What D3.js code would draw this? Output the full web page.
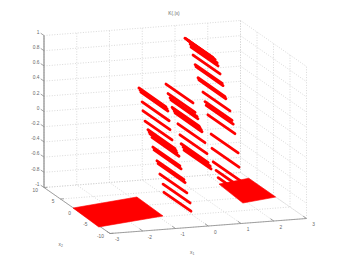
<!DOCTYPE html>
<html>
<head>
<meta charset="utf-8">
<script src="https://cdn.jsdelivr.net/npm/d3@7"></script>
<style>
  body { margin: 0; background: #fff; }
  text { font-family: "Liberation Sans", sans-serif; font-size: 4.8px; fill: #666; }
</style>
</head>
<body>
<svg id="chart"></svg>
<script>
// axis ticks
const xTicks = [-3, -2, -1, 0, 1, 2, 3];
const yTicks = [-10, -5, 0, 5, 10];
const zTicks = [-1, -0.8, -0.6, -0.4, -0.2, 0, 0.2, 0.4, 0.6, 0.8, 1];
const zTickLabels = ["-1", "-0.8", "-0.6", "-0.4", "-0.2", "0", "0.2", "0.4", "0.6", "0.8", "1"];

// red line segments, one entry per segment: x1, x2 at the start, and level
const lineX = [-0.75, -0.71, -0.68, -0.64, -0.61, -0.54, -0.44, -0.40, -0.37, -0.30, -0.27, -0.23, -0.13, -0.09, -0.03, 0.08, 0.11,
  0.18, 0.25, 0.32, 0.35, 0.39, 0.42, 0.46, 0.49, 0.59, 0.66, 0.70, 0.77, 0.80,
  0.83, 0.87, 0.94, 1.01, 1.04, 1.11, 1.18, 1.21, 1.28, 1.31, 1.45, 1.52, 1.56, 1.62, 1.73, 1.76, 1.80, 1.90, 1.97];
const lineY = [3.58, 3.62, 3.65, 3.69, 3.73, 3.81, 3.92, 3.96, 4.00, 4.07, 4.11, 4.14, 4.26, 4.30, 4.37, 4.49, 4.52,
  4.60, 4.67, 4.75, 4.78, 4.83, 4.86, 4.90, 4.94, 5.05, 5.13, 5.17, 5.24, 5.28,
  5.32, 5.35, 5.43, 5.51, 5.54, 5.62, 5.69, 5.73, 5.81, 5.85, 6.00, 6.07, 6.11, 6.19, 6.30, 6.34, 6.37, 6.49, 6.56];
const lineZ = [0.43, 0.40, 0.37, 0.24, 0.12, -0.02, -0.14, -0.17, -0.20, -0.25, -0.38, -0.42, -0.57, -0.61, -0.75, -0.89, -1.0,
  0.42, 0.29, 0.23, 0.20, 0.10, 0.08, 0.05, 0.02, -0.13, -0.28, -0.40, -0.45, -0.49,
  0.98, 0.97, 0.94, 0.89, 0.85, 0.74, 0.61, 0.58, 0.43, 0.40, 0.23, 0.10, 0.05, -0.08, -0.34, -0.53, -0.71, -0.83, -0.93];
const lineSpan = 8.2;

// flat patches on the floor (corners)
const leftPatchX = [-3.01, -0.82, -0.85, -3.05];
const leftPatchY = [1.09, 3.5, -4.73, -7.1];
const rightPatchX = [1.95, 3.0, 3.0, 1.86];
const rightPatchY = [6.1, 7.5, -0.66, -2.03];

const width = 338;
const height = 263;

const svg = d3.select("#chart").attr("width", width).attr("height", height);

// screen offsets contributed by each data axis (orthographic view)
const xToScreenX = d3.scaleLinear().domain([-3, 3]).range([-98.25, 98.25]);
const xToScreenY = d3.scaleLinear().domain([-3, 3]).range([7.5, -7.5]);
const yToScreenX = d3.scaleLinear().domain([-10, 10]).range([33, -33]);
const yToScreenY = d3.scaleLinear().domain([-10, 10]).range([23, -23]);
const zToScreenY = d3.scaleLinear().domain([-1, 1]).range([203, 51]);

function project(x, y, z) {
  return [175.25 + xToScreenX(x) + yToScreenX(y), xToScreenY(x) + yToScreenY(y) + zToScreenY(z)];
}

function segment(group, a, b, cls) {
  const p = project(a[0], a[1], a[2]);
  const q = project(b[0], b[1], b[2]);
  return group.append("line").attr("class", cls)
    .attr("x1", p[0]).attr("y1", p[1]).attr("x2", q[0]).attr("y2", q[1]);
}

// grid on the floor and on the two back walls
const grid = svg.append("g")
  .attr("stroke", "#cfcfcf").attr("stroke-width", 0.8).attr("stroke-dasharray", "1 1.6");

xTicks.forEach(function(x) {
  segment(grid, [x, -10, -1], [x, 10, -1], "grid");
  segment(grid, [x, 10, -1], [x, 10, 1], "grid");
});
yTicks.forEach(function(y) {
  segment(grid, [-3, y, -1], [3, y, -1], "grid");
  segment(grid, [3, y, -1], [3, y, 1], "grid");
});
zTicks.forEach(function(z) {
  segment(grid, [-3, 10, z], [3, 10, z], "grid");
  segment(grid, [3, 10, z], [3, -10, z], "grid");
});

// axes and tick marks
const axes = svg.append("g").attr("stroke", "#8c8c8c").attr("stroke-width", 0.8);
segment(axes, [-3, 10, -1], [-3, 10, 1], "axis").attr("stroke-width", 1.2);
segment(axes, [-3, 10, -1], [-3, -10, -1], "axis");
segment(axes, [-3, -10, -1], [3, -10, -1], "axis");

zTicks.forEach(function(z) { segment(axes, [-3, 10, z], [-3, 11, z], "tick"); });
xTicks.forEach(function(x) { segment(axes, [x, -10, -1], [x, -9, -1], "tick"); });
yTicks.forEach(function(y) { segment(axes, [-3, y, -1], [-2.9, y, -1], "tick"); });

// tick labels
svg.selectAll(".z-label").data(zTicks).enter().append("text")
  .attr("class", "z-label")
  .attr("x", 39.5)
  .attr("y", function(d) { return project(-3, 11, d)[1] + 0.5; })
  .attr("text-anchor", "end")
  .text(function(d, i) { return zTickLabels[i]; });

svg.selectAll(".x-label").data(xTicks).enter().append("text")
  .attr("class", "x-label")
  .attr("x", function(d) { return project(d, -12, -1)[0] + 0.5; })
  .attr("y", function(d) { return project(d, -12, -1)[1] + 3; })
  .attr("text-anchor", "middle")
  .text(function(d) { return d; });

svg.selectAll(".y-label").data(yTicks).enter().append("text")
  .attr("class", "y-label")
  .attr("x", function(d) { return project(-3.2, d, -1)[0] + 0.5; })
  .attr("y", function(d) { return project(-3.2, d, -1)[1] + 3.5; })
  .attr("text-anchor", "end")
  .text(function(d) { return d; });

// title and axis names
svg.append("text").attr("x", 174).attr("y", 15).attr("text-anchor", "middle").text("K(.|x)");
const x1Label = svg.append("text").attr("x", 190).attr("y", 253.5);
x1Label.append("tspan").text("x");
x1Label.append("tspan").attr("dy", 1).style("font-size", "3.4px").text("1");
const x2Label = svg.append("text").attr("x", 58.5).attr("y", 245.5);
x2Label.append("tspan").text("x");
x2Label.append("tspan").attr("dy", 1).style("font-size", "3.4px").text("2");

// floor patches
const patchPath = d3.line();
[[leftPatchX, leftPatchY], [rightPatchX, rightPatchY]].forEach(function(patch) {
  svg.append("path")
    .attr("d", patchPath(patch[0].map(function(x, i) { return project(x, patch[1][i], -1); })) + "Z")
    .attr("fill", "#f00")
    .attr("stroke", "#f00")
    .attr("stroke-width", 0.6);
});

// red segments
svg.selectAll(".segment").data(lineX).enter().append("line")
  .attr("class", "segment")
  .attr("x1", function(d, i) { return project(d, lineY[i], lineZ[i])[0]; })
  .attr("y1", function(d, i) { return project(d, lineY[i], lineZ[i])[1]; })
  .attr("x2", function(d, i) { return project(d, lineY[i] - lineSpan, lineZ[i])[0]; })
  .attr("y2", function(d, i) { return project(d, lineY[i] - lineSpan, lineZ[i])[1]; })
  .attr("stroke", "#f00")
  .attr("stroke-width", 2.8)
  .attr("stroke-linecap", "round");
</script>
</body>
</html>
